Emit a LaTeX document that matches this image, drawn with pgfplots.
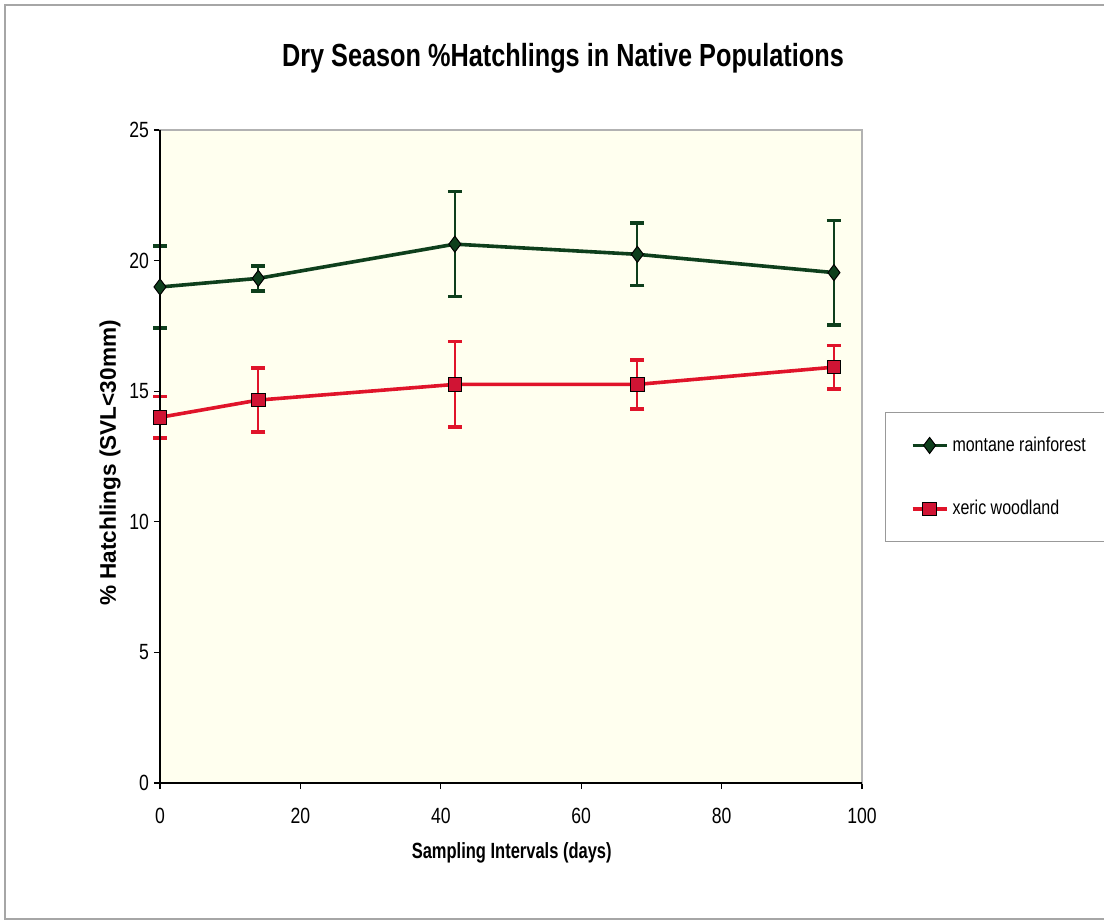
\documentclass[border=0pt]{standalone}
\usepackage{pgfplots}
\pgfplotsset{compat=1.18}
\usepackage{fontspec}
\setmainfont{Liberation Sans}
\newfontfamily\narrow[FakeStretch=0.8]{Liberation Sans}
\newfontfamily\narrowb[FakeStretch=0.75]{Liberation Sans}
\newfontfamily\titlefont[FakeStretch=0.79]{Liberation Sans}
\newfontfamily\ticknarrow[FakeStretch=0.8]{Liberation Sans}
\definecolor{dgreen}{HTML}{0E3F1C}
\definecolor{xred}{HTML}{E0142A}
\definecolor{mred}{HTML}{D01434}
\definecolor{cream}{HTML}{FFFFEF}

\pgfplotstableread{
x y e
0 18.99 1.58
14 19.32 0.48
42 20.63 2.01
68 20.24 1.20
96 19.54 2.00
}\montane
\pgfplotstableread{
x y e
0 14.00 0.80
14 14.66 1.23
42 15.26 1.64
68 15.26 0.93
96 15.92 0.83
}\xeric

\begin{document}
\begin{tikzpicture}
\useasboundingbox (-80pt,-70pt) rectangle (472pt,391.5pt);
\fill[white] (-80pt,-70pt) rectangle (472pt,391.5pt);
\draw[gray!70, line width=0.6pt] (-77.5pt,-68pt) rectangle (480pt,389pt);
\begin{axis}[
  at={(0,0)}, anchor=south west,
  scale only axis, width=351pt, height=326.5pt,
  xmin=0, xmax=100, ymin=0, ymax=25,
  xtick={0,20,...,100}, ytick={0,5,...,25},
  tick align=outside, tick pos=left, major tick length=3pt,
  tick style={black, line width=0.6pt},
  axis background/.style={fill=cream},
  axis line style={gray!60, line width=0.6pt},
  /pgf/number format/assume math mode=true,
  tick label style={font=\ticknarrow\fontsize{11}{13}\selectfont},
  xticklabel style={yshift=-6pt},
  yticklabel style={xshift=1pt},
  title={\fontsize{16}{19}\selectfont\bfseries\titlefont Dry Season \%Hatchlings in Native Populations},
  title style={at={(axis description cs:0.574,1.113)}, anchor=center, yshift=-7pt},
  xlabel={\fontsize{11}{13}\selectfont\bfseries\narrowb Sampling Intervals (days)},
  xlabel style={at={(axis description cs:0.501,-0.1072)}, anchor=center},
  ylabel={\fontsize{11.3}{13}\selectfont\bfseries \% Hatchlings (SVL<30mm)},
  ylabel style={at={(axis description cs:-0.0712,0.49)}, anchor=center},
  legend style={at={(axis description cs:1.033,0.568)}, anchor=north west,
    draw=gray!80, line width=0.6pt, fill=white, inner xsep=12.5pt, inner ysep=10pt,
    row sep=19pt, font=\fontsize{10}{12}\selectfont\narrow},
  legend cell align=left,
  clip=false,
]
\addplot[dgreen, line width=1.8pt, mark=diamond*,
  mark options={fill=dgreen, draw=black, line width=0.5pt, mark size=4pt},
  error bars/.cd, y dir=both, y explicit,
  error bar style={dgreen, line width=0.9pt},
  error mark options={rotate=90, mark size=3.5pt, line width=1.8pt, dgreen}]
  table[x=x, y=y, y error=e] {\montane};
\addlegendentry{\makebox[90pt][l]{montane rainforest}}
\addplot[xred, line width=1.8pt, mark=square*,
  mark options={fill=mred, draw=black, line width=0.5pt, mark size=3.4pt},
  error bars/.cd, y dir=both, y explicit,
  error bar style={xred, line width=0.9pt},
  error mark options={rotate=90, mark size=3.5pt, line width=1.8pt, xred}]
  table[x=x, y=y, y error=e] {\xeric};
\addlegendentry{\makebox[90pt][l]{xeric woodland}}
\draw[black, line width=0.7pt] (rel axis cs:0,1) -- (rel axis cs:0,0) -- (rel axis cs:1,0);
\end{axis}
\end{tikzpicture}
\end{document}
